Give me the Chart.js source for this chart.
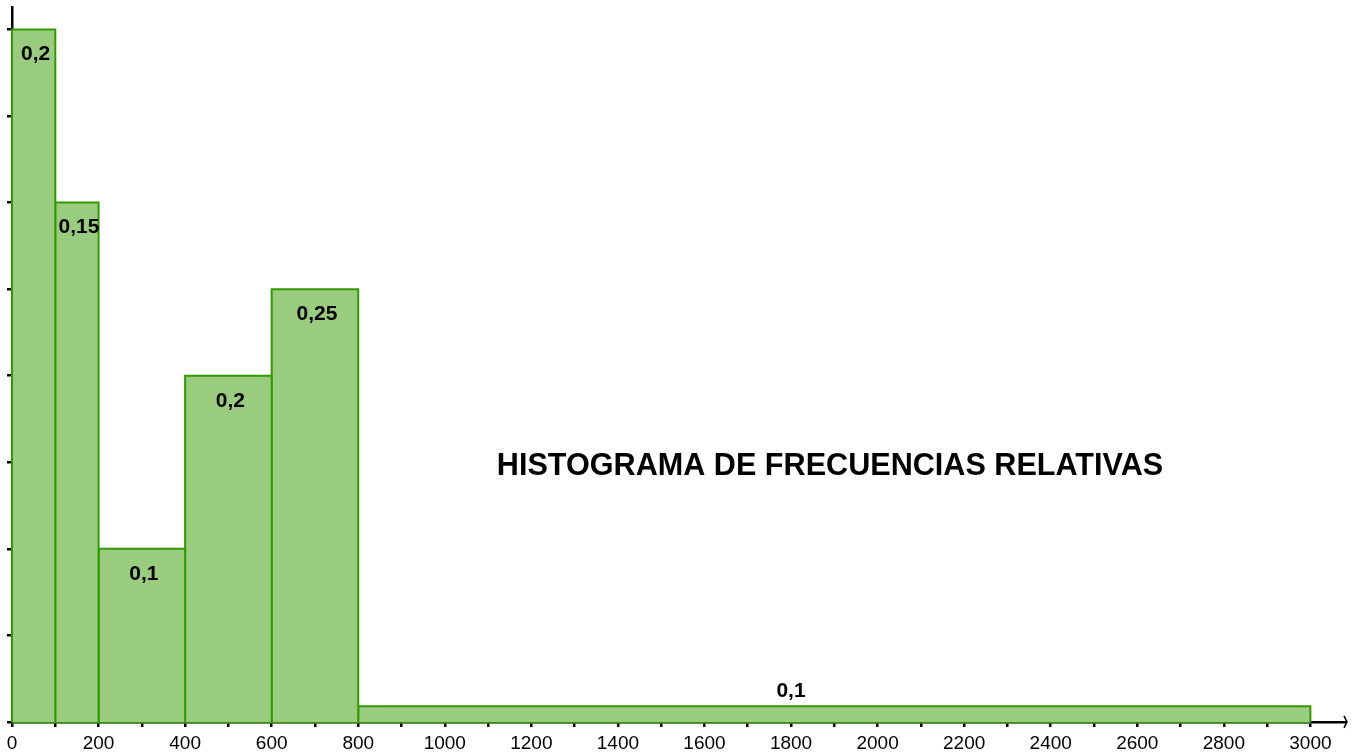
<!DOCTYPE html>
<html>
<head>
<meta charset="utf-8">
<script src="https://cdn.jsdelivr.net/npm/chart.js@4/dist/chart.umd.min.js"></script>
<style>
html,body{margin:0;padding:0;background:#fff;overflow:hidden;}
#wrap{position:relative;width:1357px;height:753px;}
</style>
</head>
<body>
<div id="wrap"><canvas id="c" width="1357" height="753"></canvas></div>
<script>
// ---- data ----
const binStarts = [0, 100, 200, 400, 600, 800];
const binEnds   = [100, 200, 400, 600, 800, 3000];
const relFreq   = [0.2, 0.15, 0.1, 0.2, 0.25, 0.1];
const freqLabels = ['0,2', '0,15', '0,1', '0,2', '0,25', '0,1'];
const xTickValues = [0,100,200,300,400,500,600,700,800,900,1000,1100,1200,1300,1400,1500,1600,1700,1800,1900,2000,2100,2200,2300,2400,2500,2600,2700,2800,2900,3000];
const yTickValues = [0, 0.00025, 0.0005, 0.00075, 0.001, 0.00125, 0.0015, 0.00175, 0.002];
const titleText = 'HISTOGRAMA DE FRECUENCIAS RELATIVAS';

const BORDER = '#339900';
const FILL = '#99cc7f';

// density = relative frequency / bin width (histogram heights)
const datasets = binStarts.map((x0, i) => {
  const x1 = binEnds[i];
  const h = relFreq[i] / (x1 - x0);
  return {
    data: [{x:x0,y:0},{x:x0,y:h},{x:x1,y:h},{x:x1,y:0}],
    borderColor: BORDER,
    backgroundColor: FILL,
    borderWidth: 2,
    pointRadius: 0,
    tension: 0,
    fill: 'origin',
    clip: 4
  };
});
// bottom edge of the bars
datasets.push({
  data: [{x: binStarts[0], y: 0}, {x: binEnds[binEnds.length - 1], y: 0}],
  borderColor: BORDER,
  borderWidth: 2.5,
  pointRadius: 0,
  fill: false,
  clip: 4
});

const labelPlugin = {
  id: 'histLabels',
  afterDatasetsDraw(chart, args, opts) {
    const ctx = chart.ctx;
    const xs = chart.scales.x, ys = chart.scales.y;
    ctx.save();
    ctx.fillStyle = '#000';
    ctx.font = 'bold 21px "Liberation Sans", Arial, sans-serif';
    ctx.textAlign = 'center';
    ctx.textBaseline = 'middle';
    binStarts.forEach((x0, i) => {
      const x1 = binEnds[i];
      const h = relFreq[i] / (x1 - x0);
      const top = ys.getPixelForValue(h);
      const base = ys.getPixelForValue(0);
      let cx = xs.getPixelForValue((x0 + x1) / 2) + 2;
      if (x1 - x0 > 1000) cx = xs.getPixelForValue(opts.wideLabelX);
      const y = (base - top) < 40 ? top - 15 : top + 25;
      ctx.fillText(freqLabels[i], cx, y);
    });
    // title text
    ctx.font = 'bold 30.6px "Liberation Sans", Arial, sans-serif';
    ctx.fillText(titleText, opts.titleX, opts.titleY);
    // arrow at end of x axis
    const r = chart.chartArea.right, by = ys.getPixelForValue(0);
    ctx.strokeStyle = '#000';
    ctx.lineWidth = 1.5;
    ctx.beginPath();
    ctx.moveTo(r - 1, by - 6);
    ctx.lineTo(r + 2, by);
    ctx.lineTo(r - 1, by + 6);
    ctx.stroke();
    ctx.restore();
  }
};

new Chart(document.getElementById('c'), {
  type: 'line',
  data: { datasets },
  plugins: [labelPlugin],
  options: {
    responsive: false,
    animation: false,
    layout: { padding: { left: 7, right: 12, top: 7, bottom: -8 } },
    plugins: {
      legend: { display: false },
      tooltip: { enabled: false },
      histLabels: { wideLabelX: 1800, titleX: 830, titleY: 467 }
    },
    scales: {
      x: {
        type: 'linear',
        min: 0,
        max: 3080,
        afterBuildTicks: (s) => { s.ticks = xTickValues.map(v => ({ value: v })); },
        ticks: {
          autoSkip: false,
          maxRotation: 0,
          color: '#000',
          padding: 6,
          font: { family: '"Liberation Sans", Arial, sans-serif', size: 19, lineHeight: 1.16 },
          callback: (v) => (v % 200 === 0 ? String(v) : '')
        },
        grid: { drawOnChartArea: false, color: '#000', lineWidth: 2.5, tickLength: 5 },
        border: { color: '#000', width: 2.5 }
      },
      y: {
        min: 0,
        max: 0.002065,
        afterBuildTicks: (s) => { s.ticks = yTickValues.map(v => ({ value: v })); },
        ticks: { display: false },
        grid: { drawOnChartArea: false, color: '#000', lineWidth: 2.5, tickLength: 5 },
        border: { color: '#000', width: 2.5 }
      }
    }
  }
});
</script>
</body>
</html>
